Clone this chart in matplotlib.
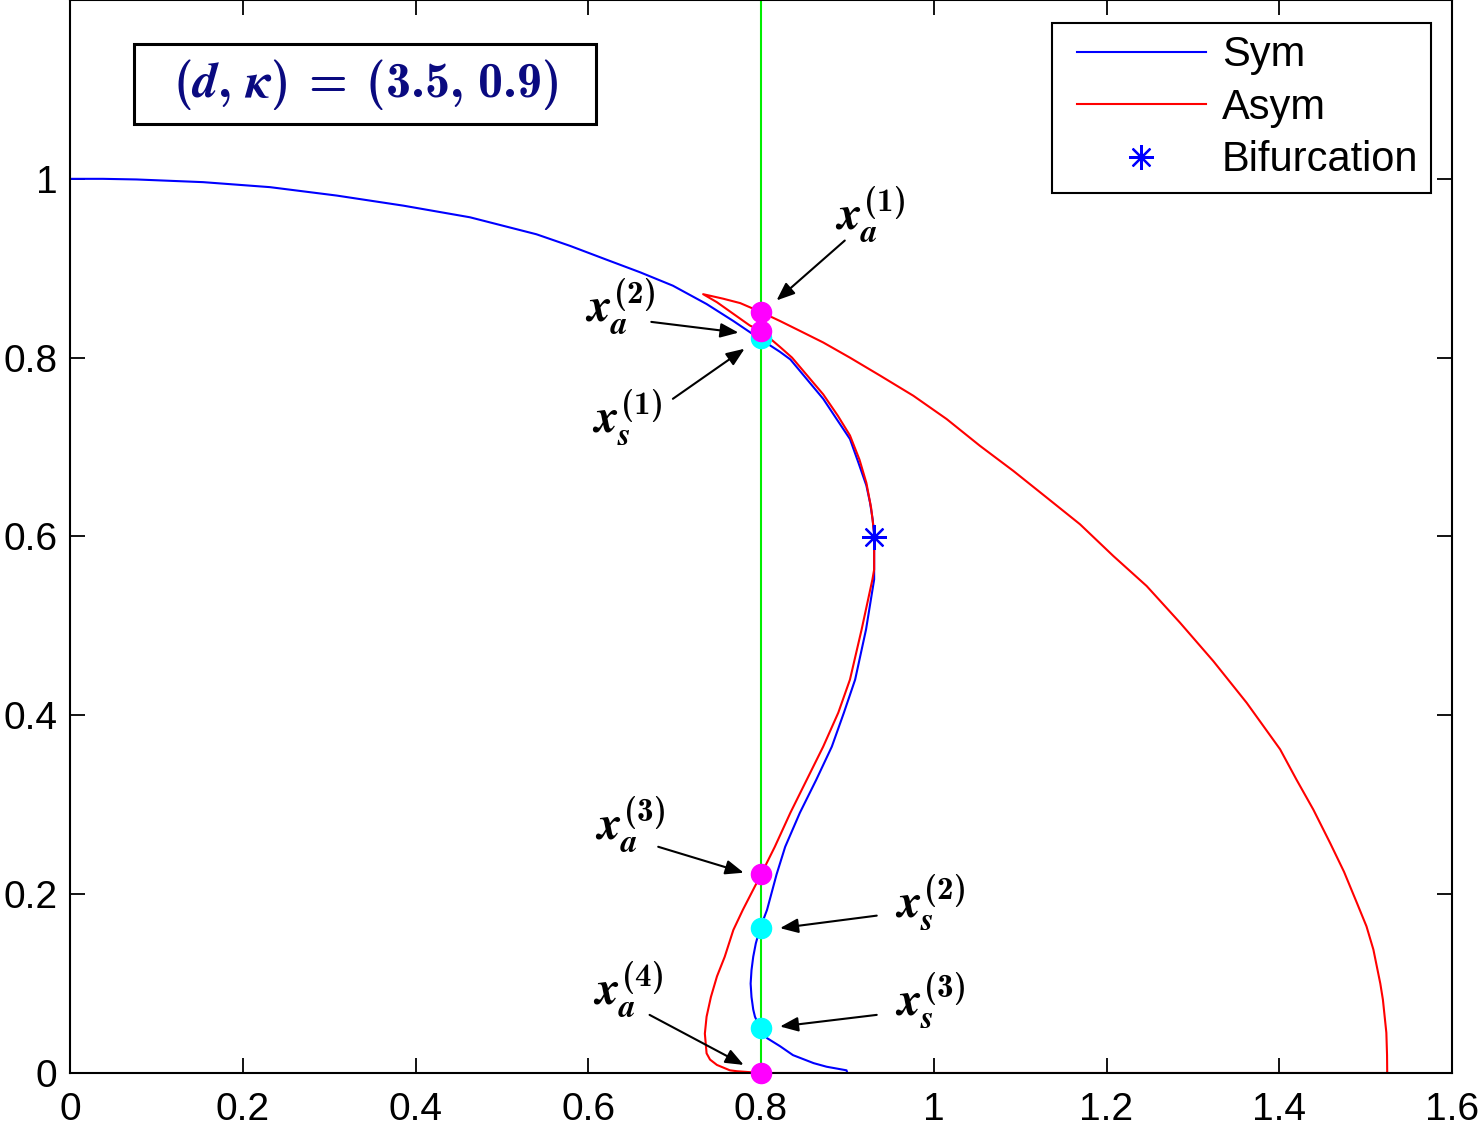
import numpy as np
import matplotlib
matplotlib.use('Agg')
import matplotlib.pyplot as plt
from matplotlib.patches import Rectangle
from matplotlib.legend_handler import HandlerLine2D

plt.rcParams['font.family'] = ['Liberation Sans', 'DejaVu Sans']
plt.rcParams['mathtext.fontset'] = 'custom'
plt.rcParams['mathtext.rm'] = 'cmb10'
plt.rcParams['mathtext.bf'] = 'cmb10'
plt.rcParams['mathtext.it'] = 'STIXGeneral:italic:bold'

# symmetric branch (blue)
sym_x = [0.0, 0.038, 0.077, 0.154, 0.2315, 0.3087, 0.386, 0.463, 0.540, 0.579,
         0.620, 0.660, 0.698, 0.737, 0.768, 0.791, 0.822, 0.834, 0.872, 0.8876,
         0.903, 0.9127, 0.922, 0.9262, 0.9293, 0.931, 0.931, 0.9216, 0.909, 0.896,
         0.882, 0.864, 0.845, 0.828, 0.818, 0.807, 0.799, 0.794, 0.791, 0.789,
         0.788, 0.789, 0.791, 0.793, 0.799, 0.807, 0.822, 0.837, 0.861, 0.876,
         0.899, 0.9]
sym_y = [1.0, 1.0, 0.9993, 0.9963, 0.9907, 0.9813, 0.970, 0.957, 0.938, 0.925,
         0.910, 0.8955, 0.8805, 0.860, 0.841, 0.826, 0.8065, 0.798, 0.754, 0.7313,
         0.709, 0.6828, 0.657, 0.638, 0.619, 0.601, 0.552, 0.496, 0.440, 0.403,
         0.365, 0.328, 0.291, 0.253, 0.222, 0.1825, 0.162, 0.145, 0.130, 0.115,
         0.100, 0.085, 0.071, 0.063, 0.050, 0.039, 0.030, 0.020, 0.011, 0.007,
         0.003, 0.0]

# asymmetric branch (red), closed loop
asym_x = [1.525, 1.5248, 1.524, 1.520, 1.517, 1.509, 1.501, 1.490, 1.475, 1.459,
          1.4395, 1.420, 1.401, 1.3623, 1.3237, 1.2851, 1.2465, 1.2079, 1.1693,
          1.1307, 1.0921, 1.0535, 1.015, 0.9764, 0.9378, 0.903, 0.872, 0.845,
          0.822, 0.8, 0.776, 0.756, 0.733,
          0.749, 0.768, 0.787, 0.8, 0.822, 0.836, 0.872, 0.889, 0.903, 0.914,
          0.922, 0.9275, 0.931, 0.931, 0.929, 0.9165, 0.903, 0.8895, 0.872, 0.853,
          0.834, 0.816, 0.8, 0.779, 0.768, 0.758, 0.749, 0.742, 0.737, 0.735,
          0.737, 0.741, 0.749, 0.764, 0.772, 0.8, 1.525]
asym_y = [0.0, 0.02, 0.045, 0.082, 0.100, 0.138, 0.164, 0.190, 0.225, 0.257,
          0.2945, 0.328, 0.362, 0.414, 0.4606, 0.5036, 0.5446, 0.5782, 0.6137,
          0.6436, 0.6734, 0.7014, 0.7313, 0.7574, 0.780, 0.800, 0.817, 0.830,
          0.841, 0.851, 0.861, 0.866, 0.871,
          0.862, 0.849, 0.836, 0.830, 0.812, 0.800, 0.759, 0.735, 0.713, 0.686,
          0.660, 0.632, 0.604, 0.563, 0.552, 0.496, 0.440, 0.403, 0.365, 0.328,
          0.291, 0.253, 0.222, 0.1825, 0.160, 0.130, 0.108, 0.085, 0.063, 0.044,
          0.022, 0.015, 0.009, 0.003, 0.002, 0.0, 0.0]

bif_x, bif_y = 0.931, 0.599
x_cut = 0.8
asym_pts_y = [0.851, 0.830, 0.222, 0.0]
sym_pts_y = [0.822, 0.162, 0.050]

# labels: (text, text position, arrow tail, arrow tip)
labels = [
    (r'$x_a^{(1)}$', (0.926, 0.960), (0.897, 0.931), (0.818, 0.864)),
    (r'$x_a^{(2)}$', (0.637, 0.857), (0.673, 0.840), (0.774, 0.828)),
    (r'$x_s^{(1)}$', (0.645, 0.733), (0.698, 0.754), (0.781, 0.810)),
    (r'$x_a^{(3)}$', (0.648, 0.277), (0.681, 0.253), (0.780, 0.224)),
    (r'$x_s^{(2)}$', (0.996, 0.190), (0.934, 0.176), (0.822, 0.162)),
    (r'$x_s^{(3)}$', (0.996, 0.081), (0.934, 0.065), (0.822, 0.052)),
    (r'$x_a^{(4)}$', (0.646, 0.093), (0.671, 0.065), (0.780, 0.009)),
]

fig = plt.figure(figsize=(14.81, 11.26), dpi=100)
ax = fig.add_axes([70/1481, 53/1126, 1382/1481, 1073/1126])

h1, = ax.plot(sym_x, sym_y, color='#0000ff', lw=1.5, label='Sym')
h2, = ax.plot(asym_x, asym_y, color='#ff0000', lw=1.5, label='Asym')
ax.axvline(x_cut, color='#00ee00', lw=1.5)
h3, = ax.plot([bif_x], [bif_y], ls='none', marker=(8, 2, 0), ms=18, mew=1.6,
              color='#0000ff', label='Bifurcation')
ax.plot([x_cut]*len(sym_pts_y), sym_pts_y, 'o', color='#00ffff', ms=14.5,
        clip_on=False, zorder=4)
ax.plot([x_cut]*len(asym_pts_y), asym_pts_y, 'o', color='#ff00ff', ms=14.5,
        clip_on=False, zorder=5)

for txt, tpos, tail, tip in labels:
    ax.annotate('', xy=tip, xytext=tail,
                arrowprops=dict(arrowstyle='-|>,head_length=0.55,head_width=0.22',
                                color='k', lw=1.5, shrinkA=0, shrinkB=0,
                                mutation_scale=20))
    ax.text(tpos[0], tpos[1], txt, fontsize=34, ha='center', va='center')

ax.add_patch(Rectangle((0.0463, 0.8844), 0.3343, 0.0746, transform=ax.transAxes,
                       fill=False, ec='k', lw=2.2, zorder=6))
ax.text(0.2135, 0.9217, r'$(d,\,\kappa)\;=\;(3.5,\,0.9)$',
        transform=ax.transAxes, fontsize=36, color='#0a0a80',
        ha='center', va='center')

ax.set_xlim(0, 1.6)
ax.set_ylim(0, 1.2)
ax.set_xticks(np.arange(0, 1.61, 0.2))
ax.set_xticklabels(['0', '0.2', '0.4', '0.6', '0.8', '1', '1.2', '1.4', '1.6'])
ax.set_yticks(np.arange(0, 1.01, 0.2))
ax.set_yticklabels(['0', '0.2', '0.4', '0.6', '0.8', '1'])
ax.tick_params(direction='in', length=10.5, width=1.3, labelsize=28,
               top=True, right=True)
ax.tick_params(axis='x', pad=14)
ax.tick_params(axis='y', pad=9)
for s in ax.spines.values():
    s.set_linewidth(1.5)

hmap = {h: HandlerLine2D(xpad=0.3) for h in (h1, h2, h3)}
leg = ax.legend(handles=[h1, h2, h3], loc='upper right',
                bbox_to_anchor=(0.9846, 0.9788), borderaxespad=0,
                fontsize=30, handlelength=3.4, handletextpad=0.38,
                borderpad=0.3, labelspacing=0.3, fancybox=False,
                framealpha=1, edgecolor='k', handler_map=hmap)
leg.get_frame().set_linewidth(1.5)

fig.savefig('out.png', dpi=100)
